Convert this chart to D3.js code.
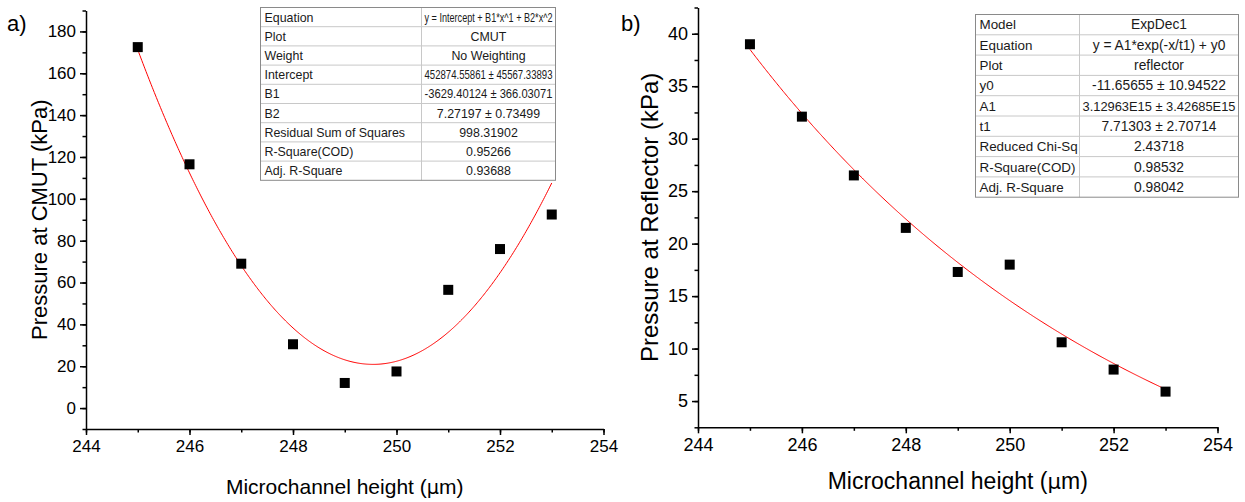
<!DOCTYPE html>
<html>
<head>
<meta charset="utf-8">
<script src="https://cdn.jsdelivr.net/npm/d3@7/dist/d3.min.js"></script>
<style>
  html, body { margin: 0; padding: 0; background: #fff; }
  svg { display: block; font-family: "Liberation Sans", Arial, sans-serif; }
</style>
</head>
<body>
<svg id="chart" width="1245" height="502"></svg>
<script>
// Measured pressures versus microchannel height
const heights = [245, 246, 247, 248, 249, 250, 251, 252, 253];
const cmutPressure = [172.5, 116.5, 69, 30.5, 12, 17.5, 56.5, 76, 92.5];
const reflectorPressure = [39, 32.1, 26.5, 21.5, 17.3, 18, 10.6, 8, 5.9];

// Tick labels
const xTicks = [244, 246, 248, 250, 252, 254];
const cmutTicks = [0, 20, 40, 60, 80, 100, 120, 140, 160, 180];
const reflectorTicks = [5, 10, 15, 20, 25, 30, 35, 40];

// Fit parameters: polynomial (Intercept, B1, B2) and ExpDec1 (y0, A1, t1)
const cmutFitCoef = [452874.55861, -3629.40124, 7.27197];
const reflectorFitCoef = [-11.65655, 3.12963e15, 7.71303];

// Fit report tables
const cmutFitRows = [
  ["Equation", "y = Intercept + B1*x^1 + B2*x^2"],
  ["Plot", "CMUT"],
  ["Weight", "No Weighting"],
  ["Intercept", "452874.55861 \u00B1 45567.33893"],
  ["B1", "-3629.40124 \u00B1 366.03071"],
  ["B2", "7.27197 \u00B1 0.73499"],
  ["Residual Sum of Squares", "998.31902"],
  ["R-Square(COD)", "0.95266"],
  ["Adj. R-Square", "0.93688"]
];
const reflectorFitRows = [
  ["Model", "ExpDec1"],
  ["Equation", "y = A1*exp(-x/t1) + y0"],
  ["Plot", "reflector"],
  ["y0", "-11.65655 \u00B1 10.94522"],
  ["A1", "3.12963E15 \u00B1 3.42685E15"],
  ["t1", "7.71303 \u00B1 2.70714"],
  ["Reduced Chi-Sq", "2.43718"],
  ["R-Square(COD)", "0.98532"],
  ["Adj. R-Square", "0.98042"]
];

const cmutModel = x => cmutFitCoef[0] + cmutFitCoef[1] * x + cmutFitCoef[2] * x * x;
const reflectorModel = x => reflectorFitCoef[1] * Math.exp(-x / reflectorFitCoef[2]) + reflectorFitCoef[0];

const svg = d3.select("#chart");

function drawPanel(cfg) {
  const g = svg.append("g");
  const x = d3.scaleLinear().domain([244, 254]).range(cfg.xRange);
  const y = d3.scaleLinear().domain(cfg.yDomain).range(cfg.yRange);

  // minor ticks
  const xMinor = d3.range(244, 254.01, 1);
  const yMinor = d3.range(cfg.yDomain[0], cfg.yDomain[1] + 1e-9, cfg.yStep / 2);

  g.append("g")
    .attr("transform", `translate(0,${cfg.yRange[0]})`)
    .call(d3.axisBottom(x).tickValues(xMinor).tickSize(cfg.minorLen).tickFormat("").tickSizeOuter(0))
    .call(a => a.select(".domain").remove());
  g.append("g")
    .attr("transform", `translate(${cfg.xRange[0]},0)`)
    .call(d3.axisLeft(y).tickValues(yMinor).tickSize(cfg.minorLen).tickFormat("").tickSizeOuter(0))
    .call(a => a.select(".domain").remove());

  const xAxis = g.append("g")
    .attr("transform", `translate(0,${cfg.yRange[0]})`)
    .call(d3.axisBottom(x).tickValues(xTicks).tickSize(cfg.majorLen).tickPadding(5).tickSizeOuter(0).tickFormat(d3.format("d")));
  const yAxis = g.append("g")
    .attr("transform", `translate(${cfg.xRange[0]},0)`)
    .call(d3.axisLeft(y).tickValues(cfg.yTicks).tickSize(cfg.majorLen).tickPadding(4).tickSizeOuter(0).tickFormat(d3.format("d")));

  [xAxis, yAxis].forEach(a => {
    a.selectAll("text").attr("font-size", cfg.tickFont).attr("fill", "#000")
      .attr("font-family", "Liberation Sans, Arial, sans-serif");
  });
  g.selectAll(".tick line").attr("stroke", "#000").attr("stroke-width", 1.5);
  g.selectAll(".domain").attr("stroke", "#000").attr("stroke-width", 1.5);

  // fitted curve
  const xs = d3.range(245, 253.0001, 0.02);
  g.append("path")
    .datum(xs)
    .attr("fill", "none")
    .attr("stroke", "#ff0000")
    .attr("stroke-width", 1)
    .attr("d", d3.line().x(d => x(d)).y(d => y(cfg.model(d))));

  // data markers
  const s = cfg.marker;
  g.selectAll("rect.pt")
    .data(heights.map((h, i) => [h, cfg.values[i]]))
    .join("rect")
    .attr("class", "pt")
    .attr("x", d => x(d[0]) - s / 2)
    .attr("y", d => y(d[1]) - s / 2)
    .attr("width", s)
    .attr("height", s)
    .attr("fill", "#000");

  // axis titles
  const xt = g.append("text")
    .attr("x", (cfg.xRange[0] + cfg.xRange[1]) / 2)
    .attr("y", cfg.xTitleY)
    .attr("text-anchor", "middle")
    .attr("font-size", cfg.titleFont)
    .attr("fill", "#000");
  xt.append("tspan").text("Microchannel height (");
  xt.append("tspan").attr("font-family", "DejaVu Sans, sans-serif").attr("font-size", cfg.titleFont * 0.92).text("\u03BC");
  xt.append("tspan").text("m)");

  g.append("text")
    .attr("transform", `translate(${cfg.yTitleX},${(cfg.yRange[0] + cfg.yRange[1]) / 2}) rotate(-90)`)
    .attr("text-anchor", "middle")
    .attr("font-size", cfg.yTitleFont)
    .attr("fill", "#000")
    .text(cfg.yTitle);

  g.append("text")
    .attr("x", cfg.labelX).attr("y", 31)
    .attr("font-size", 22).attr("fill", "#000")
    .text(cfg.label);

  // fit report table
  const t = cfg.table;
  const nRows = cfg.rows.length;
  const tg = g.append("g");
  tg.append("rect")
    .attr("x", t.x0).attr("y", t.y0)
    .attr("width", t.x2 - t.x0).attr("height", t.rowH * nRows)
    .attr("fill", "#fff");
  cfg.rows.forEach((r, i) => {
    const top = t.y0 + i * t.rowH;
    const baseY = top + t.rowH / 2 + t.font * 0.36;
    if (i > 0) {
      tg.append("line").attr("x1", t.x0).attr("x2", t.x2).attr("y1", top).attr("y2", top)
        .attr("stroke", "#c8c8c8").attr("stroke-width", 1);
    }
    tg.append("text").attr("x", t.x0 + 4).attr("y", baseY)
      .attr("font-size", t.font).attr("fill", "#1a1a1a").text(r[0]);
    const v = tg.append("text").attr("x", (t.x1 + t.x2) / 2).attr("y", baseY)
      .attr("text-anchor", "middle")
      .attr("font-size", t.valueFont).attr("fill", "#1a1a1a").text(r[1]);
    // overlong values are fitted into the value column
    const avail = t.x2 - t.x1 - 6;
    const w = v.node().getComputedTextLength();
    if (w > avail) {
      if (t.squeeze) {
        v.attr("textLength", avail).attr("lengthAdjust", "spacingAndGlyphs");
      } else {
        v.attr("font-size", t.valueFont * avail / w);
      }
    }
  });
  tg.append("line").attr("x1", t.x1).attr("x2", t.x1).attr("y1", t.y0).attr("y2", t.y0 + t.rowH * nRows)
    .attr("stroke", "#c8c8c8").attr("stroke-width", 1);
  tg.append("rect")
    .attr("x", t.x0).attr("y", t.y0)
    .attr("width", t.x2 - t.x0).attr("height", t.rowH * nRows)
    .attr("fill", "none").attr("stroke", "#8a8a8a").attr("stroke-width", 1);
}

drawPanel({
  xRange: [86, 603.5], yDomain: [-10, 190], yRange: [429, 10.5], yStep: 20,
  yTicks: cmutTicks, values: cmutPressure, model: cmutModel,
  majorLen: 6, minorLen: 3.5, tickFont: 17, titleFont: 21, yTitleFont: 22,
  marker: 10, xTitleY: 494, yTitleX: 47, yTitle: "Pressure at CMUT (kPa)",
  label: "a)", labelX: 7,
  rows: cmutFitRows,
  table: { x0: 260.5, x1: 421.5, x2: 555.5, y0: 7.5, rowH: 19.2, font: 12.4, valueFont: 12.4, squeeze: true }
});

drawPanel({
  xRange: [698, 1217.5], yDomain: [2.5, 42.5], yRange: [427.3, 7.5], yStep: 5,
  yTicks: reflectorTicks, values: reflectorPressure, model: reflectorModel,
  majorLen: 6, minorLen: 3.5, tickFont: 18, titleFont: 23, yTitleFont: 24,
  marker: 10, xTitleY: 489, yTitleX: 658, yTitle: "Pressure at Reflector (kPa)",
  label: "b)", labelX: 621,
  rows: reflectorFitRows,
  table: { x0: 975.5, x1: 1079.5, x2: 1238.5, y0: 14.5, rowH: 20.3, font: 13.4, valueFont: 13.8, squeeze: false }
});
</script>
</body>
</html>
